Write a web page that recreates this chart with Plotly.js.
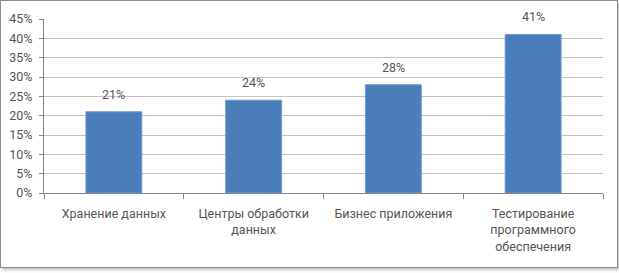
<!DOCTYPE html>
<html><head><meta charset="utf-8">
<script src="https://cdn.plot.ly/plotly-3.0.1.min.js"></script>
<style>
html,body{margin:0;padding:0;background:#fff;}
#chart{position:absolute;left:0;top:0;width:619px;height:273px;}
#frame{position:absolute;left:0;top:0;width:616px;height:266px;border:1px solid #8c8c8c;box-shadow:2px 2px 3px rgba(0,0,0,0.25);pointer-events:none;}
</style></head>
<body>
<div id="chart"></div>
<div id="frame"></div>
<script>
const categories = ["Хранение данных", "Центры обработки<br>данных", "Бизнес приложения", "Тестирование<br>программного<br>обеспечения"];
const values = [21, 24, 28, 41];
const valueLabels = ["21%", "24%", "28%", "41%"];
const yTicks = [0, 5, 10, 15, 20, 25, 30, 35, 40, 45];
const yTickLabels = ["0%", "5%", "10%", "15%", "20%", "25%", "30%", "35%", "40%", "45%"];

const font = {family: "Roboto, 'Open Sans', sans-serif", size: 12.5, color: "#555555", weight: 400};

Plotly.newPlot("chart", [{
  type: "bar",
  x: categories,
  y: values,
  marker: {color: "#4a7ebb", line: {color: "#6f9ad0", width: 1}},
  hoverinfo: "none"
}], {
  width: 619, height: 273,
  margin: {l: 44, r: 16, t: 19, b: 80},
  paper_bgcolor: "#fff", plot_bgcolor: "#fff",
  bargap: 0.6,
  font: font,
  showlegend: false,
  annotations: categories.map((c, i) => ({
    x: c, y: values[i], xref: "x", yref: "y",
    text: valueLabels[i], showarrow: false,
    yanchor: "bottom", yshift: 8, font: font
  })),
  xaxis: {
    type: "category",
    tickson: "boundaries",
    ticks: "outside", ticklen: 5, tickcolor: "#868686",
    showline: true, linecolor: "#868686", linewidth: 1,
    showgrid: false, zeroline: false,
    tickfont: font,
    ticklabelstandoff: 9,
    automargin: false
  },
  yaxis: {
    range: [0, 45],
    tickvals: yTicks, ticktext: yTickLabels,
    ticks: "outside", ticklen: 4, tickcolor: "#868686",
    showline: true, linecolor: "#868686", linewidth: 1,
    showgrid: true, gridcolor: "#c4c4c4", gridwidth: 1,
    zeroline: false,
    tickfont: font,
    ticklabelstandoff: 4,
    automargin: false
  }
}, {staticPlot: true, displayModeBar: false});
</script>
</body></html>
